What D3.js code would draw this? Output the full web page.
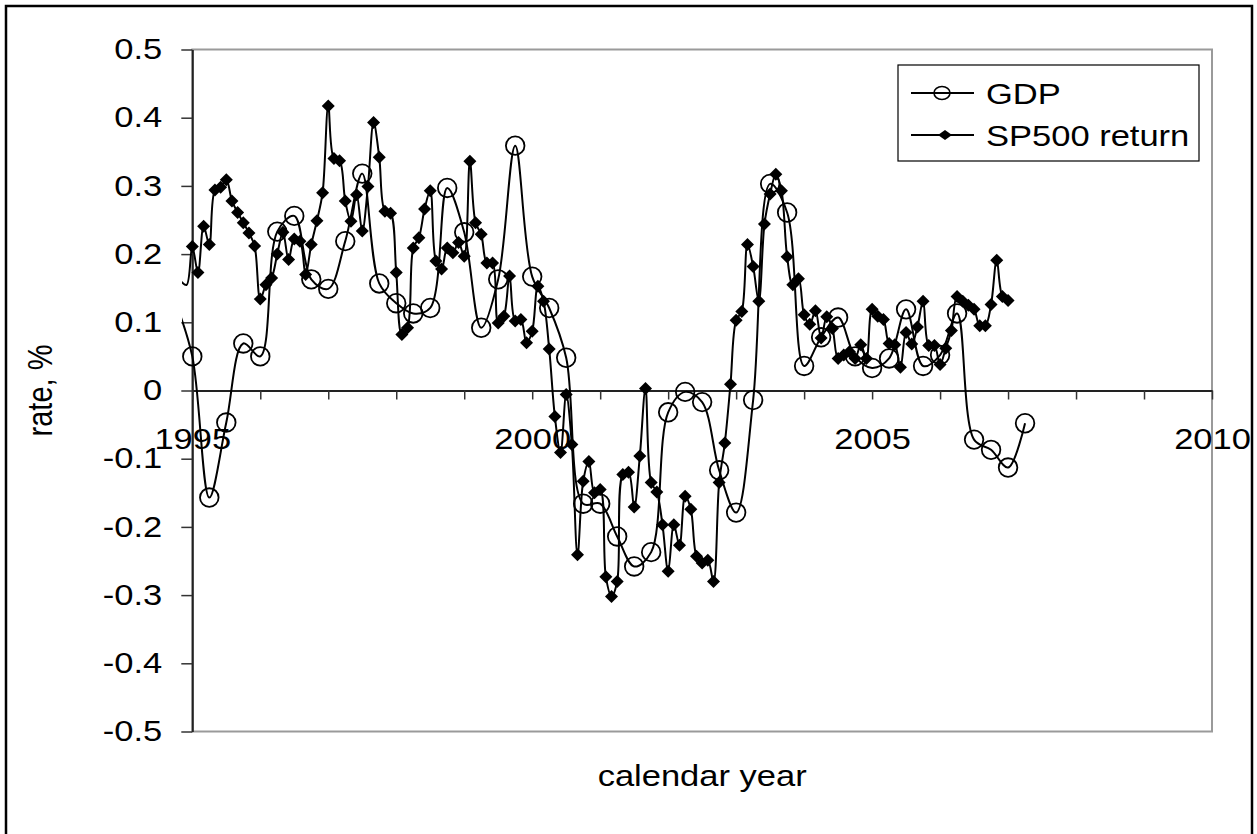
<!DOCTYPE html>
<html>
<head>
<meta charset="utf-8">
<script src="https://cdn.jsdelivr.net/npm/d3@7"></script>
<style>
  body { margin: 0; background: #fff; }
  text { font-family: Arial, "Liberation Sans", sans-serif; fill: #000; }
</style>
</head>
<body>
<svg></svg>
<script>
// GDP growth, quarterly, first value is 1994 Q4
let gdpStart = 1994.75
let gdpStep = 0.25
let gdpValues = [0.13, 0.050, -0.157, -0.047, 0.069, 0.050, 0.233, 0.256, 0.163, 0.149,
    0.219, 0.318, 0.157, 0.128, 0.113, 0.121, 0.297, 0.232, 0.092, 0.163,
    0.359, 0.167, 0.121, 0.048, -0.166, -0.166, -0.214, -0.258, -0.237, -0.032,
    -0.002, -0.017, -0.117, -0.179, -0.014, 0.303, 0.261, 0.036, 0.078, 0.107,
    0.05, 0.033, 0.047, 0.119, 0.036, 0.052, 0.113, -0.072, -0.087, -0.113, -0.048]

// SP500 return, monthly, first value is Nov 1994
let spStart = 1994 + 10 / 12
let spStep = 1 / 12
let spValues = [0.16, 0.155,
    0.211, 0.173, 0.241, 0.214, 0.294, 0.298, 0.309, 0.278, 0.261, 0.246, 0.231, 0.212,
    0.134, 0.155, 0.165, 0.200, 0.232, 0.192, 0.222, 0.219, 0.170, 0.214, 0.249, 0.290,
    0.417, 0.340, 0.337, 0.278, 0.248, 0.287, 0.234, 0.299, 0.393, 0.342, 0.263, 0.260,
    0.173, 0.082, 0.092, 0.209, 0.224, 0.266, 0.293, 0.190, 0.178, 0.209, 0.202, 0.217,
    0.197, 0.336, 0.246, 0.229, 0.187, 0.187, 0.099, 0.109, 0.168, 0.102, 0.104, 0.070,
    0.087, 0.153, 0.131, 0.061, -0.038, -0.091, -0.006, -0.079, -0.241, -0.133, -0.104, -0.150,
    -0.145, -0.273, -0.302, -0.280, -0.123, -0.120, -0.171, -0.096, 0.003, -0.135, -0.149, -0.197,
    -0.265, -0.197, -0.227, -0.155, -0.174, -0.243, -0.253, -0.249, -0.280, -0.135, -0.077, 0.009,
    0.103, 0.116, 0.214, 0.182, 0.131, 0.244, 0.288, 0.317, 0.293, 0.196, 0.155, 0.164,
    0.111, 0.097, 0.117, 0.077, 0.108, 0.091, 0.047, 0.052, 0.057, 0.047, 0.067, 0.047,
    0.119, 0.109, 0.104, 0.069, 0.067, 0.034, 0.085, 0.068, 0.093, 0.131, 0.066, 0.066,
    0.038, 0.062, 0.088, 0.138, 0.131, 0.125, 0.119, 0.095, 0.095, 0.126, 0.191, 0.138, 0.132]

let xTicks = [1995, 1996, 1997, 1998, 1999, 2000, 2001, 2002, 2003, 2004, 2005, 2006, 2007, 2008, 2009, 2010]
let xTickLabels = [1995, 2000, 2005, 2010]
let yTicks = [0.5, 0.4, 0.3, 0.2, 0.1, 0, -0.1, -0.2, -0.3, -0.4, -0.5]
let seriesNames = ['GDP', 'SP500 return']

let width = 1257
let height = 834
let plotLeft = 192.3
let plotRight = 1212
let plotTop = 49.5
let plotBottom = 731.5
let fontSize = 29
let sx = 1.19   // text in the picture is stretched sideways

let svg = d3.select('svg')
    .attr('width', width)
    .attr('height', height)

let gdp = gdpValues.map((v, i) => ({ x: gdpStart + i * gdpStep, y: v }))
let sp = spValues.map((v, i) => ({ x: spStart + i * spStep, y: v }))

let xScale = d3.scaleLinear().domain([1995, 2010]).range([plotLeft, plotRight])
let yScale = d3.scaleLinear().domain([-0.5, 0.5]).range([plotBottom, plotTop])

// outer chart border
svg.append('rect')
    .attr('x', 6).attr('y', 6)
    .attr('width', 1246).attr('height', 840)
    .attr('fill', 'none')
    .attr('stroke', '#000')
    .attr('stroke-width', 2.5)

// plot area border
svg.append('rect')
    .attr('x', plotLeft).attr('y', plotTop)
    .attr('width', plotRight - plotLeft).attr('height', plotBottom - plotTop)
    .attr('fill', 'none')
    .attr('stroke', '#9a9a9a')
    .attr('stroke-width', 2)

let fmt = (d) => String(+d.toFixed(1))

let yAxis = d3.axisLeft(yScale)
    .tickValues(yTicks)
    .tickSize(11)
    .tickSizeOuter(0)
    .tickPadding(19)
    .tickFormat(fmt)

let yG = svg.append('g')
    .attr('transform', 'translate(' + plotLeft + ',0)')
    .call(yAxis)
yG.select('.domain').attr('stroke', '#222').attr('stroke-width', 2)
yG.selectAll('.tick line').attr('stroke', '#333').attr('stroke-width', 1.5)
yG.selectAll('.tick text')
    .attr('x', -30 / sx)
    .attr('transform', 'scale(' + sx + ',1)')
    .style('font-size', fontSize + 'px')
    .style('font-family', 'Arial, "Liberation Sans", sans-serif')

let xAxis = d3.axisBottom(xScale)
    .tickValues(xTicks)
    .tickSize(9)
    .tickSizeOuter(0)
    .tickFormat((d) => xTickLabels.includes(d) ? String(d) : '')

let xG = svg.append('g')
    .attr('transform', 'translate(0,' + yScale(0) + ')')
    .call(xAxis)
xG.select('.domain').attr('stroke', '#222').attr('stroke-width', 1.8)
xG.selectAll('.tick line').attr('stroke', '#333').attr('stroke-width', 1.5)
xG.selectAll('.tick text')
    .attr('y', 58.5)
    .attr('dy', null)
    .attr('transform', 'scale(' + sx + ',1)')
    .style('font-size', fontSize + 'px')
    .style('font-family', 'Arial, "Liberation Sans", sans-serif')

// axis titles
svg.append('text')
    .attr('transform', 'translate(52,' + (plotTop + plotBottom) / 2 + ') scale(' + sx + ',1) rotate(-90)')
    .attr('text-anchor', 'middle')
    .style('font-size', fontSize + 'px')
    .text('rate, %')

svg.append('text')
    .attr('transform', 'translate(' + (plotLeft + plotRight) / 2 + ',786) scale(' + sx + ',1)')
    .attr('text-anchor', 'middle')
    .style('font-size', fontSize + 'px')
    .text('calendar year')

// series
svg.append('clipPath')
    .attr('id', 'plot-clip')
    .append('rect')
    .attr('x', 182).attr('y', 30)
    .attr('width', plotRight - 182 + 10).attr('height', plotBottom - 10)

let line = d3.line()
    .x((d) => xScale(d.x))
    .y((d) => yScale(d.y))
    .curve(d3.curveCatmullRom)

let plot = svg.append('g').attr('clip-path', 'url(#plot-clip)')

plot.append('path')
    .datum(gdp)
    .attr('d', line)
    .attr('fill', 'none')
    .attr('stroke', '#000')
    .attr('stroke-width', 2)

plot.selectAll('circle.gdp')
    .data(gdp.filter((d) => d.x >= 1995))
    .enter()
    .append('circle')
    .attr('class', 'gdp')
    .attr('cx', (d) => xScale(d.x))
    .attr('cy', (d) => yScale(d.y))
    .attr('r', 9.3)
    .attr('fill', 'none')
    .attr('stroke', '#000')
    .attr('stroke-width', 1.8)

plot.append('path')
    .datum(sp)
    .attr('d', line)
    .attr('fill', 'none')
    .attr('stroke', '#000')
    .attr('stroke-width', 2)

let diamond = (r) => 'M0,' + (-r) + 'L' + r + ',0L0,' + r + 'L' + (-r) + ',0Z'

plot.selectAll('path.sp')
    .data(sp.filter((d) => d.x >= 1995 - 0.001))
    .enter()
    .append('path')
    .attr('class', 'sp')
    .attr('d', diamond(6.5))
    .attr('transform', (d) => 'translate(' + xScale(d.x) + ',' + yScale(d.y) + ')')
    .attr('fill', '#000')

// legend
let legend = svg.append('g')
legend.append('rect')
    .attr('x', 898).attr('y', 65)
    .attr('width', 301).attr('height', 96)
    .attr('fill', '#fff')
    .attr('stroke', '#000')
    .attr('stroke-width', 1.2)

let legendRows = [93, 135]
legendRows.forEach((y, i) => {
    legend.append('line')
        .attr('x1', 911).attr('x2', 974)
        .attr('y1', y).attr('y2', y)
        .attr('stroke', '#000')
        .attr('stroke-width', 2)
    if (i === 0) {
        legend.append('ellipse')
            .attr('cx', 942).attr('cy', y)
            .attr('rx', 8).attr('ry', 6.5)
            .attr('fill', 'none')
            .attr('stroke', '#000')
            .attr('stroke-width', 1.6)
    } else {
        legend.append('path')
            .attr('d', 'M0,-5L7,0L0,5L-7,0Z')
            .attr('transform', 'translate(945,' + y + ')')
            .attr('fill', '#000')
    }
    legend.append('text')
        .attr('transform', 'translate(986,' + (y + 11) + ') scale(' + sx + ',1)')
        .style('font-size', fontSize + 'px')
        .text(seriesNames[i])
})
</script>
</body>
</html>
